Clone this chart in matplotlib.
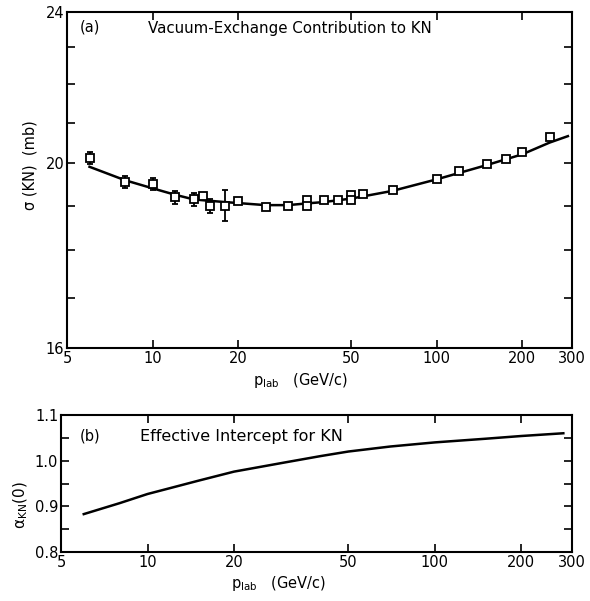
import numpy as np
import matplotlib
matplotlib.use("Agg")
import matplotlib.pyplot as plt
from matplotlib.ticker import FixedLocator, NullLocator, NullFormatter

plt.rcParams['font.family'] = ['DejaVu Sans']
plt.rcParams['font.size'] = 10
plt.rcParams['mathtext.default'] = 'regular'

# (a) measured points, sigma(KN) in mb vs p_lab in GeV/c
p_data = [6, 8, 10, 12, 14, 15, 16, 18, 20, 25, 30, 35, 35, 40, 45, 50, 50, 55,
          70, 100, 120, 150, 175, 200, 250]
sig_data = [20.12, 19.55, 19.51, 19.19, 19.15, 19.21, 18.99, 19.00, 19.11, 18.96,
            18.99, 19.13, 19.00, 19.12, 19.13, 19.25, 19.13, 19.27,
            19.37, 19.61, 19.82, 19.98, 20.11, 20.26, 20.65]
sig_err = [0.14, 0.14, 0.14, 0.15, 0.15, 0.0, 0.16, 0.36, 0.0, 0.0,
           0.0, 0.0, 0.0, 0.0, 0.0, 0.0, 0.0, 0.0,
           0.0, 0.0, 0.0, 0.0, 0.0, 0.0, 0.0]

# (a) fitted curve
p_fit = [6, 8, 10, 12, 14, 18, 25, 30, 35, 40, 50, 70, 100, 150, 200, 250, 290]
sig_fit = [19.91, 19.59, 19.40, 19.25, 19.14, 19.08, 19.01, 19.01, 19.05, 19.08,
           19.16, 19.34, 19.61, 19.95, 20.21, 20.50, 20.66]

# (b) effective intercept
p_alpha = [6, 8, 10, 12, 15, 20, 30, 40, 50, 70, 100, 150, 200, 280]
alpha = [0.883, 0.907, 0.927, 0.940, 0.956, 0.976, 0.996, 1.010, 1.020, 1.031,
         1.040, 1.048, 1.054, 1.060]

x_ticks = [5, 10, 20, 50, 100, 200, 300]
x_labels = ['5', '10', '20', '50', '100', '200', '300']

fig = plt.figure(figsize=(5.9, 6.01), dpi=100)
ax1 = fig.add_axes([0.1136, 0.4210, 0.856, 0.5591])
ax2 = fig.add_axes([0.1034, 0.0815, 0.866, 0.228])

tick_kw = dict(direction='in', length=6, width=1.2, top=True, right=True,
               labelsize=10.5, pad=2)

# ---- panel (a)
ax1.plot(p_fit, sig_fit, color='black', lw=1.8, zorder=2)
has_err = [e > 0 for e in sig_err]
ax1.errorbar([p for p, h in zip(p_data, has_err) if h],
             [s for s, h in zip(sig_data, has_err) if h],
             yerr=[e for e, h in zip(sig_err, has_err) if h],
             fmt='none', ecolor='black', elinewidth=1.3, capsize=2.5, capthick=1.3, zorder=2)
ax1.plot(p_data, sig_data, ls='none', marker='s', ms=5.5, mfc='white', mec='black',
         mew=1.3, zorder=3)

ax1.set_xscale('log')
ax1.set_yscale('log')
ax1.set_xlim(5, 300)
ax1.set_ylim(16, 24)
ax1.xaxis.set_major_locator(FixedLocator(x_ticks))
ax1.set_xticklabels(x_labels)
ax1.xaxis.set_minor_locator(NullLocator())
ax1.yaxis.set_major_locator(FixedLocator([16, 20, 24]))
ax1.set_yticklabels(['16', '20', '24'])
ax1.yaxis.set_minor_locator(FixedLocator([17, 18, 19, 21, 22, 23]))
ax1.yaxis.set_minor_formatter(NullFormatter())
ax1.tick_params(which='both', **tick_kw)

ax1.text(0.026, 0.955, '(a)', transform=ax1.transAxes, ha='left', va='center',
         fontsize=10.5)
ax1.text(0.16, 0.95, 'Vacuum-Exchange Contribution to KN', transform=ax1.transAxes,
         ha='left', va='center', fontsize=10.8)
ax1.set_ylabel('σ (KN)  (mb)', fontsize=10.5)
ax1.yaxis.set_label_coords(-0.058, 0.545)
ax1.set_xlabel(r'$p_{lab}$   (GeV/c)', fontsize=10.5)
ax1.xaxis.set_label_coords(0.463, -0.068)

# ---- panel (b)
ax2.plot(p_alpha, alpha, color='black', lw=1.8)
ax2.set_xscale('log')
ax2.set_xlim(5, 300)
ax2.set_ylim(0.8, 1.1)
ax2.xaxis.set_major_locator(FixedLocator(x_ticks))
ax2.set_xticklabels(x_labels)
ax2.xaxis.set_minor_locator(NullLocator())
ax2.yaxis.set_major_locator(FixedLocator([0.8, 0.9, 1.0, 1.1]))
ax2.set_yticklabels(['0.8', '0.9', '1.0', '1.1'])
ax2.yaxis.set_minor_locator(FixedLocator([0.85, 0.95, 1.05]))
ax2.yaxis.set_minor_formatter(NullFormatter())
ax2.tick_params(which='both', **tick_kw)

ax2.text(0.037, 0.85, '(b)', transform=ax2.transAxes, ha='left', va='center',
         fontsize=10.5)
ax2.text(0.155, 0.84, 'Effective Intercept for KN', transform=ax2.transAxes,
         ha='left', va='center', fontsize=11.5)
ax2.set_ylabel(r'$\alpha_{KN}$(0)', fontsize=11)
ax2.yaxis.set_label_coords(-0.06, 0.34)
ax2.set_xlabel(r'$p_{lab}$   (GeV/c)', fontsize=10.5)
ax2.xaxis.set_label_coords(0.425, -0.16)

for ax in (ax1, ax2):
    for sp in ax.spines.values():
        sp.set_linewidth(1.5)

fig.savefig('out.png', dpi=100)
